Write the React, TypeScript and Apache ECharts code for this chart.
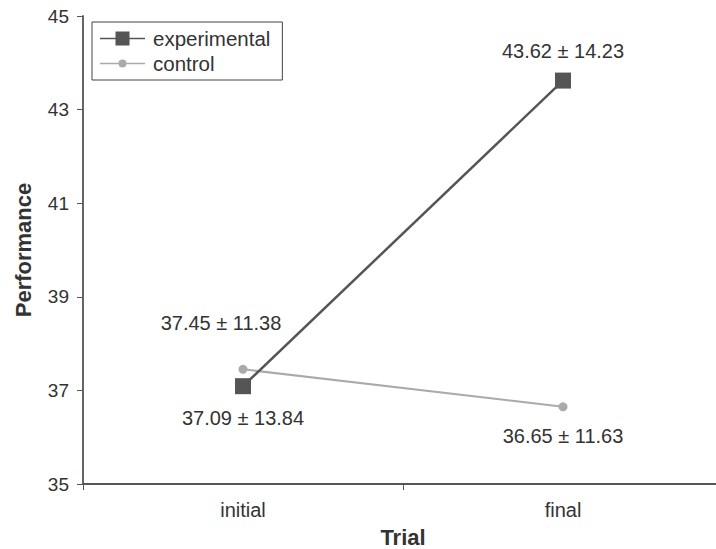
import React, { useEffect, useRef } from "react";
import * as echarts from "echarts";

const categories = ["initial", "final"];
const experimentalMean = [37.09, 43.62];
const experimentalSD = [13.84, 14.23];
const controlMean = [37.45, 36.65];
const controlSD = [11.38, 11.63];
const yTicks = { min: 35, max: 45, interval: 2 };

const FONT = "'Liberation Sans', Arial, sans-serif";
const TXT = "#333";

const expIcon = "path://M0,6.2H15.5V0H29.5V6.2H45V7.8H29.5V14H15.5V7.8H0Z";
const ctlIcon =
  "path://M0,6.3H18.7V7.7H0Z M26.3,6.3H45V7.7H26.3Z M22.5,3A4,4 0 1 1 22.5,11A4,4 0 1 1 22.5,3Z M0,0H0.01V0.01H0Z M44.99,13.99H45V14H44.99Z";

export default function App() {
  const ref = useRef<HTMLDivElement>(null);
  useEffect(() => {
    if (!ref.current) return;
    const chart = echarts.init(ref.current, null, { renderer: "svg" });
    const labelStyle = { fontSize: 20, color: TXT, fontFamily: FONT };
    const expData = experimentalMean.map((v, i) => ({
      value: v,
      label: {
        show: true,
        position: i === 0 ? "bottom" : "top",
        distance: i === 0 ? 14 : 12,
        formatter: `${v.toFixed(2)} ± ${experimentalSD[i].toFixed(2)}`,
        ...labelStyle,
      },
    }));
    const ctlData = controlMean.map((v, i) => ({
      value: v,
      label: {
        show: true,
        position: i === 0 ? "top" : "bottom",
        distance: i === 0 ? 32 : 15,
        offset: i === 0 ? [-22, 0] : [0, 0],
        formatter: `${v.toFixed(2)} ± ${controlSD[i].toFixed(2)}`,
        ...labelStyle,
      },
    }));
    chart.setOption({
      animation: false,
      backgroundColor: "#fff",
      textStyle: { fontFamily: FONT },
      grid: { left: 83, width: 640, top: 16, bottom: 65, outerBoundsMode: "none", containLabel: false },
      legend: {
        left: 92,
        top: 22,
        orient: "vertical",
        backgroundColor: "#fff",
        borderColor: "#444",
        borderWidth: 1,
        padding: [6, 12, 6, 8],
        itemWidth: 45,
        itemHeight: 14,
        itemGap: 4,
        textStyle: { fontSize: 20.5, color: TXT, fontFamily: FONT, lineHeight: 21, padding: [0, 0, 0, 3] },
        data: [
          { name: "experimental", icon: expIcon },
          { name: "control", icon: ctlIcon },
        ],
      },
      xAxis: {
        type: "category",
        data: categories,
        boundaryGap: true,
        name: "Trial",
        nameLocation: "middle",
        nameGap: 42,
        nameTextStyle: { fontSize: 22, fontWeight: "bold", color: TXT, fontFamily: FONT },
        axisLine: { lineStyle: { color: "#555", width: 1.8 } },
        axisTick: { show: true, alignWithLabel: false, length: 6, lineStyle: { color: "#555" } },
        axisLabel: { fontSize: 20, color: TXT, margin: 16, fontFamily: FONT },
        splitLine: { show: false },
      },
      yAxis: {
        type: "value",
        min: yTicks.min,
        max: yTicks.max,
        interval: yTicks.interval,
        name: "Performance",
        nameLocation: "middle",
        nameGap: 49,
        nameTextStyle: { fontSize: 22, fontWeight: "bold", color: TXT, fontFamily: FONT },
        axisLine: { show: true, lineStyle: { color: "#555", width: 1.8 } },
        axisTick: { show: true, length: 6, lineStyle: { color: "#555" } },
        axisLabel: { fontSize: 19, color: TXT, margin: 14, fontFamily: FONT },
        splitLine: { show: false },
      },
      series: [
        {
          name: "control",
          type: "line",
          data: ctlData,
          symbol: "circle",
          symbolSize: 9,
          itemStyle: { color: "#aaa" },
          lineStyle: { color: "#aaa", width: 2 },
          z: 2,
        },
        {
          name: "experimental",
          type: "line",
          data: expData,
          symbol: "rect",
          symbolSize: 16,
          itemStyle: { color: "#555" },
          lineStyle: { color: "#555", width: 2.5 },
          z: 3,
        },
      ],
    });
    return () => chart.dispose();
  }, []);
  return (
    <div
      ref={ref}
      style={{ position: "fixed", left: 0, top: 0, width: 716, height: 549, background: "#fff" }}
    />
  );
}
